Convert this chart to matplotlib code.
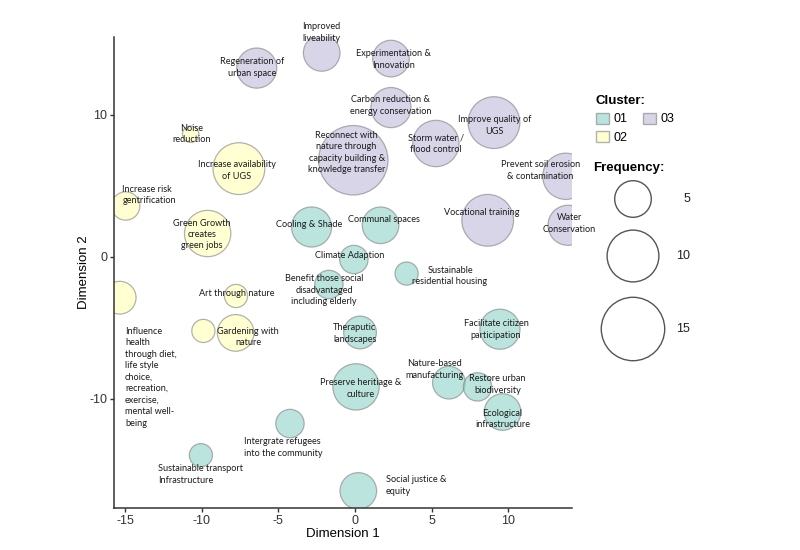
import numpy as np
import matplotlib.pyplot as plt
from matplotlib.patches import Patch

plt.rcParams['font.family'] = ['Liberation Sans', 'DejaVu Sans']
plt.rcParams['axes.unicode_minus'] = False

# ---- data ----
labels = [
    "Regeneration of\nurban space", "Improved\nliveability", "Experimentation &\nInnovation",
    "Carbon reduction &\nenergy conservation",
    "Reconnect with\nnature through\ncapacity building &\nknowledge transfer",
    "Storm water /\nflood control", "Improve quality of\nUGS",
    "Prevent soil erosion\n& contamination", "Water\nConservation", "Vocational training",
    "Noise\nreduction", "Increase availability\nof UGS", "Increase risk\ngentrification",
    "Green Growth\ncreates\ngreen jobs",
    "Influence\nhealth\nthrough diet,\nlife style\nchoice,\nrecreation,\nexercise,\nmental well-\nbeing",
    "Art through nature", "", "Gardening with\nnature",
    "Cooling & Shade", "Communal spaces", "Climate Adaption",
    "Sustainable\nresidential housing",
    "Benefit those social\ndisadvantaged\nincluding elderly",
    "Theraputic\nlandscapes", "Facilitate citizen\nparticipation",
    "Preserve heritiage &\nculture", "Nature-based\nmanufacturing",
    "Restore urban\nbiodiversity", "Ecological\ninfrastructure",
    "Intergrate refugees\ninto the community",
    "Sustainable transport\nInfrastructure", "Social justice &\nequity",
]
dim1 = [-6.41, -2.17, 2.35, 2.35, -0.11, 5.28, 9.07, 13.76, 13.9, 8.66,
        -10.72, -7.57, -14.96, -9.61, -15.35, -7.76, -9.89, -7.78,
        -2.83, 1.67, -0.07, 3.37, -1.7, 0.33, 9.46, 0.07, 6.13, 8.0, 9.63,
        -4.24, -10.05, 0.22]
dim2 = [13.3, 14.37, 13.97, 10.52, 6.81, 7.99, 9.46, 5.68, 2.23, 2.58,
        8.64, 6.22, 3.59, 1.65, -2.87, -2.75, -5.21, -5.35,
        2.11, 2.23, -0.18, -1.17, -1.94, -5.32, -5.09, -9.15, -8.85, -9.15, -10.92,
        -11.73, -13.96, -16.48]
freq = [6, 5, 5, 6, 18, 8, 10, 8, 6, 10,
        1, 10, 3, 8, 4, 2, 2, 5,
        6, 5, 3, 2, 3, 4, 6, 8, 4, 3, 5,
        3, 2, 5]
cluster = ["03"] * 10 + ["02"] * 8 + ["01"] * 14

# label placement (x, y, ha) in data units
label_pos = [
    (-6.74, 13.34, "center"), (-2.2, 15.82, "center"), (2.54, 13.9, "center"),
    (2.33, 10.68, "center"), (-0.54, 7.35, "center"), (5.28, 7.99, "center"),
    (9.13, 9.27, "center"), (12.11, 6.08, "center"), (14.0, 2.35, "center"),
    (8.26, 3.1, "center"),
    (-10.65, 8.64, "center"), (-7.72, 6.1, "center"), (-15.17, 4.37, "left"),
    (-10.0, 1.58, "center"), (-15.0, -8.47, "left"), (-7.68, -2.58, "center"),
    (-9.89, -5.21, "center"), (-6.96, -5.63, "center"),
    (-2.98, 2.3, "center"), (1.89, 2.65, "center"), (-0.33, 0.1, "center"),
    (6.2, -1.36, "center"), (-2.0, -2.35, "center"), (0.0, -5.4, "center"),
    (9.2, -5.11, "center"), (0.39, -9.27, "center"), (5.22, -7.93, "center"),
    (9.31, -8.99, "center"), (9.63, -11.43, "center"), (-7.22, -13.42, "left"),
    (-12.83, -15.32, "left"), (2.02, -16.1, "left"),
]

cluster_colors = {"01": "#8DD3C7", "02": "#FFFFB3", "03": "#BEBADA"}
size_scale = 139  # points^2 per unit of frequency

fig = plt.figure(figsize=(8, 5.5), dpi=100)
ax = fig.add_axes([114 / 800, 1 - 508 / 550, 458 / 800, 471 / 550])

cols = [cluster_colors[c] for c in cluster]
ax.scatter(dim1, dim2, s=np.array(freq) * size_scale, c=cols, alpha=0.6,
           edgecolors="grey", linewidths=0.9, zorder=2)

for lab, (lx, ly, ha) in zip(labels, label_pos):
    if lab:
        ax.text(lx, ly, lab, ha=ha, va="center", fontsize=6.6, family="Lato",
                color="#1a1a1a", linespacing=1.35, clip_on=False, zorder=3)

ax.set_xlim(-15.72, 14.16)
ax.set_ylim(-17.68, 15.49)
ax.set_xticks([-15, -10, -5, 0, 5, 10])
ax.set_yticks([-10, 0, 10])
for s in ["top", "right"]:
    ax.spines[s].set_visible(False)
for s in ["left", "bottom"]:
    ax.spines[s].set_color("#333333")
    ax.spines[s].set_linewidth(1.1)
ax.tick_params(colors="#333333", length=3, width=1.0, labelsize=9, pad=2,
               labelcolor="#333333")
ax.set_xlabel("Dimension 1", fontsize=9.5, labelpad=1)
ax.set_ylabel("Dimension 2", fontsize=9.5)
ax.yaxis.set_label_coords(-0.052, 0.5)

# cluster legend
handles = [Patch(facecolor=cluster_colors[k], alpha=0.6, edgecolor="grey", label=k)
           for k in ["01", "02", "03"]]
leg = fig.legend(handles=handles, title="Cluster:", ncol=2, loc="upper left",
                 bbox_to_anchor=(591 / 800, 1 - 90 / 550), frameon=False,
                 fontsize=9, handlelength=1.0, handleheight=1.0,
                 handletextpad=0.4, columnspacing=1.25, labelspacing=0.45,
                 alignment="left", borderaxespad=0,
                 title_fontproperties={"weight": "bold", "size": 9.5})

# frequency legend
fig.text(593 / 800, 1 - 168 / 550, "Frequency:", fontsize=9.5, weight="bold",
         va="center")
lax = fig.add_axes([580 / 800, 1 - 370 / 550, 140 / 800, 200 / 550])
lax.set_xlim(0, 140)
lax.set_ylim(200, 0)
lax.axis("off")
leg_freq = [5, 10, 15]
leg_y = [29, 86, 159]
lax.scatter([53] * 3, leg_y, s=np.array(leg_freq) * size_scale, facecolors="white",
            edgecolors="#555555", linewidths=1.0, clip_on=False)
for f, y in zip(leg_freq, leg_y):
    lax.text(110, y, str(f), ha="right", va="center", fontsize=9, color="#222222")

fig.savefig("out.png", dpi=100)
